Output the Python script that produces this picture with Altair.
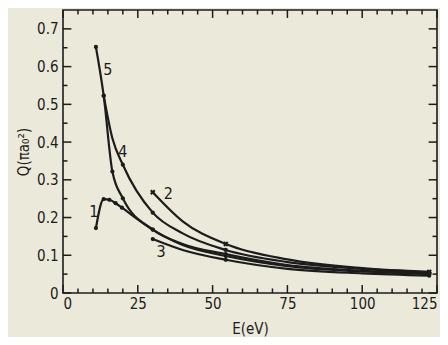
import altair as alt
import pandas as pd

# ---- data: E (eV), Q (pi a0^2), marker flag ----
c1_E = [11.0, 13.6, 15.5, 17.6, 19.7, 30.0, 40.0, 54.4, 75.0, 100.0, 122.4]
c1_Q = [0.172, 0.249, 0.247, 0.238, 0.226, 0.168, 0.127, 0.098, 0.071, 0.057, 0.050]
c1_M = [1, 1, 1, 1, 1, 1, 0, 1, 0, 0, 1]

c2_E = [30.0, 40.0, 54.4, 75.0, 100.0, 122.4]
c2_Q = [0.267, 0.190, 0.130, 0.089, 0.066, 0.056]
c2_M = [1, 0, 1, 0, 0, 1]

c3_E = [30.0, 40.0, 54.4, 75.0, 100.0, 122.4]
c3_Q = [0.143, 0.114, 0.088, 0.064, 0.052, 0.046]
c3_M = [1, 0, 1, 0, 0, 1]

c4_E = [13.6, 16.5, 20.0, 30.0, 40.0, 54.4, 75.0, 100.0, 122.4]
c4_Q = [0.523, 0.410, 0.340, 0.213, 0.158, 0.114, 0.082, 0.064, 0.055]
c4_M = [1, 0, 1, 1, 0, 1, 0, 0, 1]

c5_E = [11.0, 13.6, 16.5, 20.0, 30.0, 40.0, 54.4, 75.0, 100.0, 122.4]
c5_Q = [0.652, 0.523, 0.322, 0.251, 0.168, 0.130, 0.103, 0.074, 0.059, 0.052]
c5_M = [1, 1, 1, 1, 1, 0, 1, 0, 0, 1]

lab_text = ["1", "2", "3", "4", "5"]
lab_E = [10.3, 35.2, 32.8, 20.0, 15.0]
lab_Q = [0.214, 0.262, 0.108, 0.375, 0.59]

x_major = [0, 25, 50, 75, 100, 125]
x_minor = [v for v in range(0, 126, 5) if v % 25 != 0]
y_major = [0, 0.1, 0.2, 0.3, 0.4, 0.5, 0.6, 0.7]
y_minor = [0.05, 0.15, 0.25, 0.35, 0.45, 0.55, 0.65]

rows = []
for name, E, Q, M in [("1", c1_E, c1_Q, c1_M), ("2", c2_E, c2_Q, c2_M),
                      ("3", c3_E, c3_Q, c3_M), ("4", c4_E, c4_Q, c4_M),
                      ("5", c5_E, c5_Q, c5_M)]:
    for i, (e, q, m) in enumerate(zip(E, Q, M)):
        rows.append({"curve": name, "E": e, "Q": q, "m": m, "o": i})
df = pd.DataFrame(rows)
lab_df = pd.DataFrame({"t": lab_text, "E": lab_E, "Q": lab_Q})

INK = "#1c1c1c"
FONT = "Liberation Sans Narrow, DejaVu Sans Condensed, sans-serif"
X0, X1 = 0, 125
Y0, Y1 = 0, 0.75
xs = alt.Scale(domain=[X0, X1], nice=False, zero=False)
ys = alt.Scale(domain=[Y0, Y1], nice=False)

# inward frame ticks as 2-point line segments; lengths in data units
tick_len_x_major, tick_len_x_minor = 0.021, 0.012   # along Q
tick_len_y_major, tick_len_y_minor = 2.8, 1.5       # along E

seg = []
def add_seg(e0, q0, e1, q1):
    k = len(seg) // 2
    seg.append({"id": k, "E": e0, "Q": q0})
    seg.append({"id": k, "E": e1, "Q": q1})

for v in x_major:
    add_seg(v, Y0, v, Y0 + tick_len_x_major)
    add_seg(v, Y1, v, Y1 - tick_len_x_major)
for v in x_minor:
    add_seg(v, Y0, v, Y0 + tick_len_x_minor)
    add_seg(v, Y1, v, Y1 - tick_len_x_minor)
for v in y_major:
    add_seg(X0, v, X0 + tick_len_y_major, v)
    add_seg(X1, v, X1 - tick_len_y_major, v)
for v in y_minor:
    add_seg(X0, v, X0 + tick_len_y_minor, v)
    add_seg(X1, v, X1 - tick_len_y_minor, v)
seg_df = pd.DataFrame(seg)

lab_kw = dict(labelFont=FONT, labelFontSize=15, labelColor=INK,
              titleFont=FONT, titleFontSize=15, titleColor=INK,
              titleFontWeight="normal", domain=False, ticks=False, grid=False)

ax_x = alt.Axis(values=x_major, title="E(eV)", labelPadding=3,
                titlePadding=10, **lab_kw)
ax_y = alt.Axis(values=y_major, title="Q(πa₀²)", labelPadding=5, titlePadding=5,
                labelExpr="datum.value == 0 ? '0' : format(datum.value, '.1f')",
                **lab_kw)

frame_ticks = alt.Chart(seg_df).mark_line(color=INK, strokeWidth=1.5).encode(
    x=alt.X("E:Q", scale=xs, axis=ax_x),
    y=alt.Y("Q:Q", scale=ys, axis=ax_y),
    detail="id:N")

lines = alt.Chart(df).mark_line(color=INK, strokeWidth=2.2,
                                interpolate="monotone").encode(
    x=alt.X("E:Q", scale=xs), y=alt.Y("Q:Q", scale=ys),
    detail="curve:N", order="o:Q")

dots = alt.Chart(df).transform_filter(
    (alt.datum.m == 1) & (alt.datum.curve != "2")
).mark_circle(color=INK, size=18, opacity=1).encode(x="E:Q", y="Q:Q")

crosses = alt.Chart(df).transform_filter(
    (alt.datum.m == 1) & (alt.datum.curve == "2")
).mark_point(shape="cross", angle=45, filled=True, color=INK, size=30,
             opacity=1).encode(x="E:Q", y="Q:Q")

texts = alt.Chart(lab_df).mark_text(font=FONT, fontSize=16, color=INK,
                                    align="center", baseline="middle").encode(
    x="E:Q", y="Q:Q", text="t:N")

chart = alt.layer(frame_ticks, lines, dots, crosses, texts).properties(
    width=374, height=283,
    autosize=alt.AutoSizeParams(type="none"),
    padding={"left": 55, "top": 2, "right": 3, "bottom": 44},
    background="#EBE9DA",
).configure_view(stroke=INK, strokeWidth=1.6)

chart.save("out.html", embed_options={"renderer": "svg", "actions": False})
